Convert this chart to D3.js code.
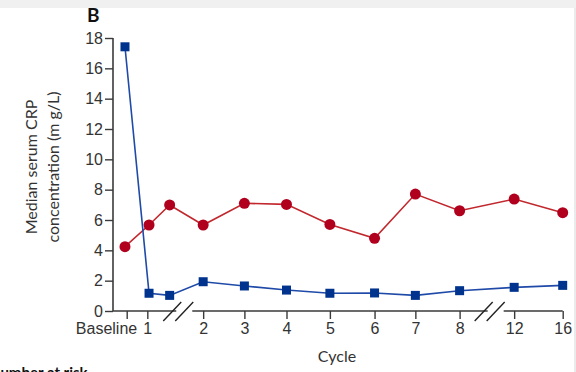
<!DOCTYPE html>
<html>
<head>
<meta charset="utf-8">
<script src="https://cdn.jsdelivr.net/npm/d3@7"></script>
<style>
  body { margin:0; background:#fff; }
  svg { display:block; font-family:Lato, "Open Sans", sans-serif; }
</style>
</head>
<body>
<svg></svg>
<script>
var screen = {width:576, height:372}
var margins = {top:38, left:113, bottom:61}

// x categories: label + position on the (broken) cycle axis
var tickLabels = ["Baseline","1","2","3","4","5","6","7","8","12","16"]
var tickSlots  = [0, 0.48, 1.78, 2.74, 3.72, 4.73, 5.77, 6.72, 7.75, 9.02, 10.15]
// measurement slots (the extra one sits just before the first break)
var pointSlots = [-0.04, 0.52, 1.0, 1.78, 2.74, 3.72, 4.73, 5.77, 6.72, 7.75, 9.02, 10.15]
var redValues  = [4.24, 5.67, 6.99, 5.67, 7.1, 7.03, 5.71, 4.79, 7.71, 6.61, 7.38, 6.48]
var blueValues = [17.42, 1.17, 1.03, 1.93, 1.65, 1.38, 1.17, 1.19, 1.03, 1.34, 1.56, 1.69]
var yTicks = [0,2,4,6,8,10,12,14,16,18]
var breakSlots = [1.2, 8.45]

var svg = d3.select("svg")
    .attr("width", screen.width)
    .attr("height", screen.height)

// grey strip at top and faint right border
svg.append("rect").attr("x",0).attr("y",0).attr("width",screen.width).attr("height",8).attr("fill","#f0f0f0")
svg.append("line").attr("x1",575).attr("x2",575).attr("y1",8).attr("y2",screen.height)
    .attr("stroke","#e4e4e4").attr("stroke-width",1.5)

var xScale = d3.scaleLinear().domain([0, 10.15]).range([126.7, 562.7])
var yScale = d3.scaleLinear().domain([0, 18]).range([311, 38])
var axisColor = "#3a3a3a"
var fs = 16

// y axis
var yAxis = d3.axisLeft(yScale).tickValues(yTicks).tickSize(8).tickPadding(2)
var gy = svg.append("g").attr("transform","translate("+margins.left+",0)").call(yAxis)
gy.select(".domain").attr("stroke",axisColor).attr("stroke-width",1.6).attr("d","M0,38V311")
gy.selectAll(".tick line").attr("stroke",axisColor).attr("stroke-width",1.4)
gy.selectAll(".tick text").attr("fill","#333").attr("font-size",fs)

// x axis
var xAxis = d3.axisBottom(xScale).tickValues(tickSlots)
    .tickFormat(function(d,i){ return tickLabels[i] }).tickSize(8).tickPadding(4)
var gx = svg.append("g").attr("transform","translate(0,311)").call(xAxis)
gx.select(".domain").remove()
gx.selectAll(".tick line").attr("stroke",axisColor).attr("stroke-width",1.4)
gx.selectAll(".tick text").attr("fill","#333").attr("font-size",fs)
// baseline label is pushed left so it clears the "1"
gx.selectAll(".tick text").filter(function(d,i){ return i == 0 })
    .attr("text-anchor","end").attr("x",10)

// axis line with gaps at the breaks
var segs = [[margins.left, xScale(breakSlots[0])-2]]
segs.push([xScale(breakSlots[0])+14, xScale(breakSlots[1])-2])
segs.push([xScale(breakSlots[1])+14, xScale(10.15)])
svg.append("g").selectAll("line").data(segs).enter().append("line")
    .attr("x1",function(d){return d[0]}).attr("x2",function(d){return d[1]})
    .attr("y1",311).attr("y2",311)
    .attr("stroke",axisColor).attr("stroke-width",1.6)

// break slashes
breakSlots.forEach(function(b){
  var bx = xScale(b)
  ;[-6, 6].forEach(function(off){
    svg.append("line")
      .attr("x1",bx+off-9).attr("y1",321)
      .attr("x2",bx+off+9).attr("y2",302)
      .attr("stroke","#222").attr("stroke-width",1.4)
  })
})

var linegenerator = d3.line()
    .x(function(d,i){ return xScale(pointSlots[i]) })
    .y(function(d){ return yScale(d) })

// red series
svg.append("path").datum(redValues).attr("d",linegenerator)
    .attr("fill","none").attr("stroke","#c1272d").attr("stroke-width",1.6)
svg.append("g").selectAll("circle").data(redValues).enter().append("circle")
    .attr("cx",function(d,i){ return xScale(pointSlots[i]) })
    .attr("cy",function(d){ return yScale(d) })
    .attr("r",5.5).attr("fill","#b0001e")

// blue series
svg.append("path").datum(blueValues).attr("d",linegenerator)
    .attr("fill","none").attr("stroke","#1f4aa8").attr("stroke-width",1.6)
svg.append("g").selectAll("rect").data(blueValues).enter().append("rect")
    .attr("x",function(d,i){ return xScale(pointSlots[i]) - 4.5 })
    .attr("y",function(d){ return yScale(d) - 4.5 })
    .attr("width",9).attr("height",9).attr("fill","#00338d")

// labels
svg.append("text").attr("x",87).attr("y",22).text("B")
    .attr("font-weight","bold").attr("font-size",19).attr("fill","#111")

var ylab = svg.append("text").attr("transform","translate(0,167) rotate(-90)")
    .attr("text-anchor","middle").attr("font-size",fs).attr("fill","#333")
ylab.append("tspan").attr("x",0).attr("y",37).text("Median serum CRP")
ylab.append("tspan").attr("x",0).attr("y",59).text("concentration (m g/L)")

svg.append("text").attr("x",337).attr("y",362).attr("text-anchor","middle")
    .attr("font-size",fs).attr("fill","#333").text("Cycle")

svg.append("text").attr("x",-11).attr("y",378).attr("font-size",15)
    .attr("font-weight","bold").attr("fill","#111").text("Number at risk")
</script>
</body>
</html>
